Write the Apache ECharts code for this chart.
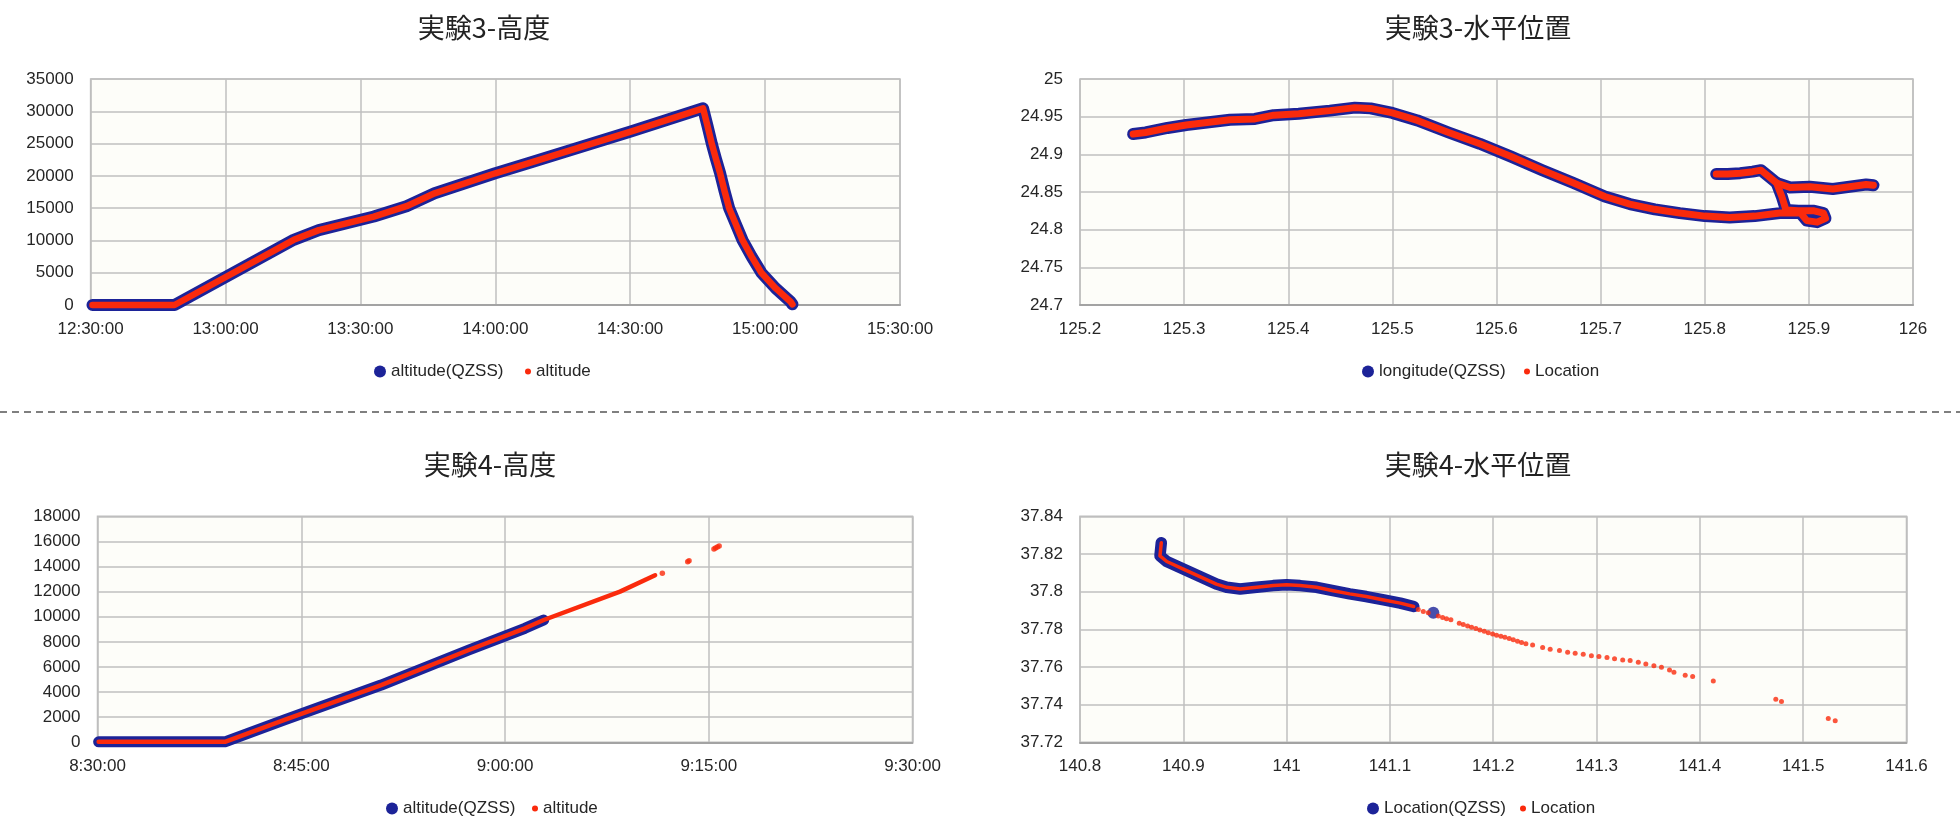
<!DOCTYPE html>
<html><head><meta charset="utf-8">
<script src="https://cdn.jsdelivr.net/npm/echarts@6/dist/echarts.min.js"></script>
<style>html,body{margin:0;padding:0;background:#ffffff}#c{width:1960px;height:840px}</style>
</head><body><div id="c"></div>
<script>
// ---------- 実験3-高度 (time, altitude) ----------
const exp3AltTimes = ['12:30:25','12:48:40','13:15:10','13:20:45','13:33:00','13:40:15','13:46:30','14:00:00','14:08:00','14:30:18','14:46:12','14:47:10','14:48:10','14:49:05','14:50:00','14:51:00','14:52:00','14:53:30','14:55:00','14:57:00','14:59:10','15:02:20','15:05:40','15:06:05'];
const exp3AltQZSS   = [0,0,10100,11600,13700,15300,17300,20400,22100,26900,30460,27800,24900,22600,20400,17600,15000,12500,10000,7500,5000,2600,500,100];
const exp3Alt       = [0,0,10100,11600,13700,15300,17300,20400,22100,26900,30460,27800,24900,22600,20400,17600,15000,12500,10000,7500,5000,2600,500,100];
const exp3AltTicksX = ['12:30:00','13:00:00','13:30:00','14:00:00','14:30:00','15:00:00','15:30:00'];

// ---------- 実験3-水平位置 (longitude, latitude) ----------
const exp3LonA = [125.251,125.263,125.284,125.302,125.326,125.344,125.368,125.386,125.41,125.44,125.464,125.479,125.5,125.524,125.554,125.584,125.614,125.644,125.674,125.704,125.728,125.752,125.776,125.80,125.824,125.848,125.872,125.892,125.898,125.908,125.916,125.914,125.905,125.890,125.878,125.874,125.869,125.862,125.854,125.846,125.834,125.822,125.811];
const exp3LatA = [24.927,24.929,24.935,24.939,24.943,24.946,24.947,24.952,24.954,24.958,24.962,24.961,24.955,24.945,24.929,24.914,24.897,24.879,24.862,24.844,24.834,24.827,24.822,24.818,24.816,24.818,24.822,24.822,24.812,24.810,24.815,24.822,24.825,24.825,24.826,24.844,24.862,24.870,24.879,24.877,24.875,24.874,24.874];
const exp3LonB = [125.869,125.882,125.901,125.923,125.939,125.955,125.962];
const exp3LatB = [24.862,24.856,24.857,24.854,24.857,24.860,24.859];

// ---------- 実験4-高度 ----------
const exp4AltQZSSTimes = ['8:30:05','8:39:23','8:43:46','8:50:53','8:57:20','9:01:28','9:02:51'];
const exp4AltQZSS      = [40,40,1780,4560,7350,9080,9740];
const exp4AltTimes     = ['8:30:05','8:39:23','8:43:46','8:50:53','8:57:20','9:01:28','9:02:51','9:08:28','9:11:03'];
const exp4Alt          = [40,40,1780,4560,7350,9080,9740,12000,13300];
const exp4AltDotTimes  = ['9:11:35','9:13:27','9:13:33','9:15:23','9:15:30','9:15:38','9:15:46'];
const exp4AltDots      = [13460,14380,14450,15390,15470,15550,15630];

// ---------- 実験4-水平位置 ----------
const exp4LonQZSS = [140.8787,140.8774,140.884,140.9,140.916,140.932,140.942,140.955,140.971,140.987,141.0,141.013,141.029,141.045,141.061,141.077,141.094,141.11,141.123];
const exp4LatQZSS = [37.826,37.819,37.816,37.812,37.808,37.804,37.8023,37.8014,37.8023,37.8032,37.8037,37.8032,37.8023,37.8005,37.7988,37.7974,37.7956,37.7939,37.7921];
const exp4LonQZSSLast = [141.142];
const exp4LatQZSSLast = [37.7888];
const exp4LonDots = [141.1274,141.1323,141.1371,141.1468,141.1510,141.1548,141.1590,141.1671,141.1710,141.1752,141.1790,141.1832,141.1871,141.1913,141.1952,141.1994,141.2032,141.2074,141.2113,141.2155,141.2194,141.2235,141.2274,141.2316,141.2381,141.2478,141.2551,141.2641,141.2720,141.2793,141.2871,141.2950,141.3023,141.3101,141.3174,141.3253,141.3325,141.3404,141.3477,141.3555,141.3628,141.3706,141.3749,141.3858,141.3930,141.4130,141.4735,141.4790,141.5243,141.5310];
const exp4LatDots = [37.7905,37.7895,37.7888,37.7870,37.7863,37.7856,37.7851,37.7832,37.7825,37.7818,37.7811,37.7804,37.7796,37.7789,37.7782,37.7775,37.7768,37.7763,37.7758,37.7751,37.7744,37.7737,37.7730,37.7723,37.7716,37.7704,37.7694,37.7687,37.7678,37.7673,37.7667,37.7660,37.7655,37.7650,37.7644,37.7637,37.7634,37.7625,37.7616,37.7607,37.7598,37.7584,37.7572,37.7556,37.7549,37.7526,37.7428,37.7416,37.7327,37.7315];

const titles = ['実験3-高度','実験3-水平位置','実験4-高度','実験4-水平位置'];
const legendNames = [['altitude(QZSS)','altitude'],['longitude(QZSS)','Location'],['altitude(QZSS)','altitude'],['Location(QZSS)','Location']];

// ---------- helpers ----------
const BLUE = '#1c2398', RED = '#fa2a0c';
const FONT = '"Liberation Sans", Arial, sans-serif';
const CJK = '"Noto Sans CJK JP", sans-serif';
const toSec = s => { const p = s.split(':').map(Number); return p[0]*3600 + p[1]*60 + p[2]; };
const pad = n => (n < 10 ? '0' : '') + n;
const fmtTime = v => Math.floor(v/3600) + ':' + pad(Math.floor((v%3600)/60)) + ':' + pad(Math.round(v%60));
const fmtNum = v => String(Math.round(v*10000)/10000);
const zipT = (t, v) => t.map((s, i) => [toSec(s), v[i]]);
const zipXY = (x, y) => x.map((a, i) => [a, y[i]]);

const grids = [
  {left: 90.6, top: 79, width: 809.4, height: 226},
  {left: 1080, top: 79, width: 833, height: 226},
  {left: 97.5, top: 516.3, width: 815, height: 226},
  {left: 1080, top: 516.3, width: 826.5, height: 226}
].map(g => Object.assign(g, {show: true, backgroundColor: '#fdfdf9', borderColor: '#bdbdbd', borderWidth: 1.5}));

const splitLine = {show: true, lineStyle: {color: '#bfbfbf', width: 1.5}};
const lbl = (fmt, margin) => ({fontSize: 17, color: '#262626', fontFamily: FONT, margin, formatter: fmt});
function xAx(i, min, max, interval, fmt) {
  return {type: 'value', gridIndex: i, min, max, interval, axisLine: {show: true, onZero: false, lineStyle: {color: '#a3a3a3', width: 2}},
    axisTick: {show: false}, splitLine, axisLabel: lbl(fmt, 16)};
}
function yAx(i, min, max, interval, fmt) {
  return {type: 'value', gridIndex: i, min, max, interval, axisLine: {show: false}, axisTick: {show: false}, splitLine, axisLabel: lbl(fmt, 17)};
}
function line(name, i, data, color, width, z) {
  return {type: 'line', name, xAxisIndex: i, yAxisIndex: i, data, showSymbol: false, symbol: 'circle', clip: false, z,
    lineStyle: {color, width, cap: 'round', join: 'round'}, itemStyle: {color}, silent: true};
}
function dots(name, i, data, color, size, z) {
  return {type: 'scatter', name, xAxisIndex: i, yAxisIndex: i, data, symbol: 'circle', symbolSize: size, clip: false, z,
    itemStyle: {color}, silent: true};
}

const series = [
  line(legendNames[0][0], 0, zipT(exp3AltTimes, exp3AltQZSS), BLUE, 12, 2),
  line(legendNames[0][1], 0, zipT(exp3AltTimes, exp3Alt), RED, 6.5, 3),
  line(legendNames[1][0], 1, zipXY(exp3LonA, exp3LatA), BLUE, 12, 2),
  line(legendNames[1][0], 1, zipXY(exp3LonB, exp3LatB), BLUE, 12, 2),
  line(legendNames[1][1], 1, zipXY(exp3LonA, exp3LatA), RED, 7, 3),
  line(legendNames[1][1], 1, zipXY(exp3LonB, exp3LatB), RED, 7, 3),
  line(legendNames[2][0], 2, zipT(exp4AltQZSSTimes, exp4AltQZSS), BLUE, 11, 2),
  line(legendNames[2][1], 2, zipT(exp4AltTimes, exp4Alt), RED, 4.5, 3),
  dots(legendNames[2][1], 2, zipT(exp4AltDotTimes, exp4AltDots), RED, 5.5, 3),
  line(legendNames[3][0], 3, zipXY(exp4LonQZSS, exp4LatQZSS), BLUE, 11.5, 2),
  dots(legendNames[3][0], 3, zipXY(exp4LonQZSSLast, exp4LatQZSSLast), BLUE, 12, 2),
  line(legendNames[3][1], 3, zipXY(exp4LonQZSS, exp4LatQZSS), RED, 3.5, 3),
  dots(legendNames[3][1], 3, zipXY(exp4LonDots, exp4LatDots), RED, 5, 3)
];

function leg(name, left, top, size, color) {
  return {left, top, padding: 0, itemWidth: size, itemHeight: size, selectedMode: false,
    textStyle: {fontSize: 17, color: '#262626', fontFamily: FONT},
    data: [{name, icon: 'circle', itemStyle: {color}}]};
}
const legend = [
  leg(legendNames[0][0], 374, 363, 12, BLUE), leg(legendNames[0][1], 525, 363, 6, RED),
  leg(legendNames[1][0], 1362, 363, 12, BLUE), leg(legendNames[1][1], 1524, 363, 6, RED),
  leg(legendNames[2][0], 386, 800, 12, BLUE), leg(legendNames[2][1], 532, 800, 6, RED),
  leg(legendNames[3][0], 1367, 800, 12, BLUE), leg(legendNames[3][1], 1520, 800, 6, RED)
];

const titlePos = [[484, 28], [1478, 28], [490, 465], [1478, 465]];
const graphic = titles.map((t, i) => ({type: 'text', x: titlePos[i][0], y: titlePos[i][1],
  style: {text: t, font: '27px ' + CJK, fill: '#222', textAlign: 'center', textVerticalAlign: 'middle'}}));
graphic.push({type: 'line', shape: {x1: 0, y1: 412, x2: 1960, y2: 412}, style: {stroke: '#555', lineWidth: 1.5, lineDash: [7, 5]}});

const option = {
  animation: false,
  backgroundColor: '#ffffff',
  grid: grids,
  xAxis: [
    xAx(0, toSec(exp3AltTicksX[0]), toSec(exp3AltTicksX[exp3AltTicksX.length-1]), 1800, fmtTime),
    xAx(1, 125.2, 126, 0.1, fmtNum),
    xAx(2, toSec('8:30:00'), toSec('9:30:00'), 900, fmtTime),
    xAx(3, 140.8, 141.6, 0.1, fmtNum)
  ],
  yAxis: [
    yAx(0, 0, 35000, 5000, v => String(v)),
    yAx(1, 24.7, 25, 0.05, fmtNum),
    yAx(2, 0, 18000, 2000, v => String(v)),
    yAx(3, 37.72, 37.84, 0.02, fmtNum)
  ],
  legend,
  graphic,
  series
};
const chart = echarts.init(document.getElementById('c'), null, {renderer: 'canvas'});
chart.setOption(option);
</script></body></html>
